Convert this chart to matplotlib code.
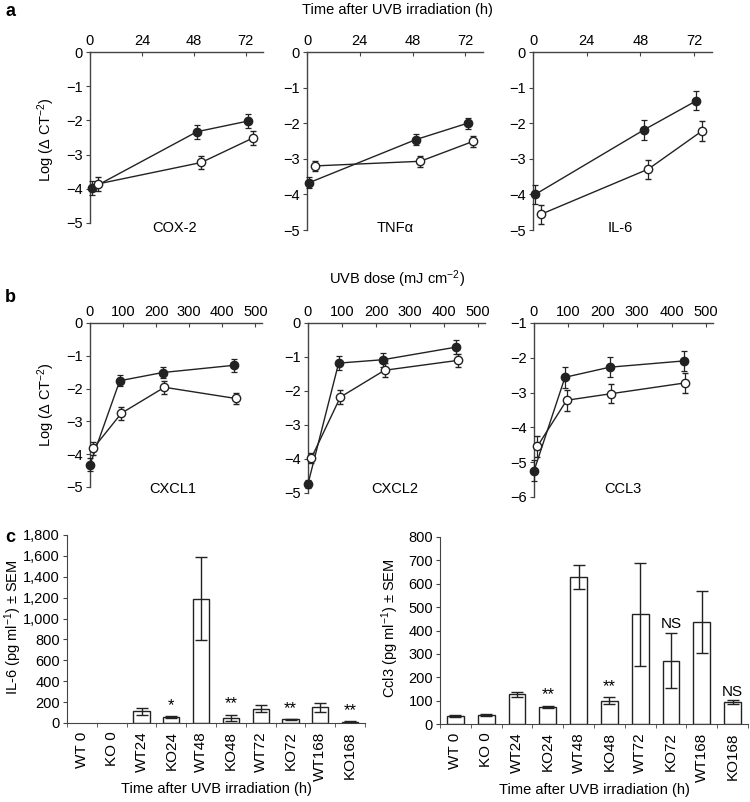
import matplotlib
matplotlib.use("Agg")
import matplotlib.pyplot as plt
import numpy as np

plt.rcParams['font.family'] = ['Liberation Sans', 'DejaVu Sans']
plt.rcParams['mathtext.fontset'] = 'custom'
plt.rcParams['mathtext.rm'] = 'Liberation Sans'
plt.rcParams['mathtext.it'] = 'Liberation Sans:italic'
plt.rcParams['font.size'] = 10.5

# ---------------- Panel a data (time, h) ----------------
a_genes = ["COX-2", "TNFα", "IL-6"]
a_time_filled = [1, 49.5, 73]
a_time_open = [3.5, 51.5, 75.5]
a_filled = [[-3.98, -2.33, -2.02], [-3.67, -2.46, -2.00], [-4.00, -2.19, -1.37]]
a_open = [[-3.86, -3.23, -2.51], [-3.20, -3.07, -2.51], [-4.56, -3.29, -2.22]]
a_filled_err = [[0.2, 0.2, 0.2], [0.15, 0.15, 0.15], [0.27, 0.27, 0.27]]
a_open_err = [[0.2, 0.18, 0.2], [0.15, 0.15, 0.15], [0.27, 0.27, 0.27]]

# ---------------- Panel b data (UVB dose) ----------------
b_genes = ["CXCL1", "CXCL2", "CCL3"]
b_dose_filled = [0, 90, 220, 435]
b_dose_open = [10, 95, 225, 440]
b_filled = [[-4.32, -1.76, -1.51, -1.29], [-4.73, -1.18, -1.08, -0.71], [-5.25, -2.56, -2.27, -2.09]]
b_open = [[-3.82, -2.75, -1.96, -2.30], [-3.97, -2.18, -1.39, -1.10], [-4.54, -3.22, -3.03, -2.72]]
b_filled_err = [[0.2, 0.17, 0.18, 0.2], [0.12, 0.2, 0.2, 0.2], [0.3, 0.3, 0.28, 0.28]]
b_open_err = [[0.2, 0.2, 0.2, 0.18], [0.15, 0.2, 0.2, 0.2], [0.3, 0.3, 0.28, 0.28]]
b_ylims = [(-5, 0), (-5, 0), (-6, -1)]

# ---------------- Panel c data ----------------
c_labels = ["WT 0", "KO 0", "WT24", "KO24", "WT48", "KO48", "WT72", "KO72", "WT168", "KO168"]
il6_vals = [0, 0, 112, 55, 1190, 50, 138, 35, 152, 12]
il6_err = [0, 0, 32, 8, 400, 30, 32, 4, 42, 3]
il6_marks = ["", "", "", "*", "", "**", "", "**", "", "**"]
ccl3_vals = [35, 39, 127, 74, 629, 99, 470, 271, 436, 93]
ccl3_err = [5, 3, 10, 5, 52, 15, 220, 118, 132, 8]
ccl3_marks = ["", "", "", "**", "", "**", "", "NS", "", "NS"]

W, H = 750, 802
fig = plt.figure(figsize=(W / 100, H / 100), dpi=100)


def px_axes(x0, y0, x1, y1):
    return fig.add_axes([x0 / W, 1 - y1 / H, (x1 - x0) / W, (y1 - y0) / H])


LC = '#222222'
SC = '#444444'


def style_line_axes(ax):
    for s in ['bottom', 'right']:
        ax.spines[s].set_visible(False)
    for s in ['top', 'left']:
        ax.spines[s].set_color(SC)
        ax.spines[s].set_linewidth(1.0)
    ax.xaxis.set_ticks_position('top')
    ax.xaxis.set_label_position('top')
    ax.tick_params(axis='x', direction='in', length=3, pad=3, color=SC, labelsize=10.5)
    ax.tick_params(axis='y', direction='out', length=3, pad=2, color=SC, labelsize=10.5)
    ax.set_facecolor('none')


def draw_series(ax, xf, yf, ef, xo, yo, eo):
    ax.errorbar(xf, yf, yerr=ef, color=LC, lw=1.0, marker='o', ms=6, mfc=LC, mec=LC,
                capsize=2, elinewidth=0.9, capthick=0.9, clip_on=False, zorder=3)
    ax.errorbar(xo, yo, yerr=eo, color=LC, lw=1.0, marker='o', ms=6, mfc='white', mec=LC,
                mew=1.0, capsize=2, elinewidth=0.9, capthick=0.9, clip_on=False, zorder=4)


# Panel a axes
a_boxes = [(90, 52, 263, 223), (307, 52, 483, 230), (533, 52, 712, 230)]
a_text_pos = [(175, 228), (395, 228), (620, 228)]
for i, (bx, tp) in enumerate(zip(a_boxes, a_text_pos)):
    ax = px_axes(*bx)
    style_line_axes(ax)
    ax.set_xlim(0, 80)
    ax.set_ylim(-5, 0)
    ax.set_xticks([0, 24, 48, 72])
    ax.set_yticks([0, -1, -2, -3, -4, -5])
    draw_series(ax, a_time_filled, a_filled[i], a_filled_err[i],
                a_time_open, a_open[i], a_open_err[i])
    fig.text(tp[0] / W, 1 - tp[1] / H, a_genes[i], ha='center', va='center', fontsize=10.5)

# Panel b axes
b_boxes = [(90, 323, 262, 487), (308, 323, 485, 493), (534, 323, 713, 497)]
b_text_pos = [(173, 489), (395, 489), (623, 489)]
for i, (bx, tp) in enumerate(zip(b_boxes, b_text_pos)):
    ax = px_axes(*bx)
    style_line_axes(ax)
    ax.set_xlim(0, 520)
    ax.set_ylim(*b_ylims[i])
    ax.set_xticks([0, 100, 200, 300, 400, 500])
    lo, hi = b_ylims[i]
    ax.set_yticks(np.arange(hi, lo - 0.5, -1))
    draw_series(ax, b_dose_filled, b_filled[i], b_filled_err[i],
                b_dose_open, b_open[i], b_open_err[i])
    fig.text(tp[0] / W, 1 - tp[1] / H, b_genes[i], ha='center', va='center', fontsize=10.5)

# Panel titles / labels
fig.text(5 / W, 1 - 12 / H, "a", fontsize=13, fontweight='bold', ha='left', va='center')
fig.text(397 / W, 1 - 10 / H, "Time after UVB irradiation (h)", fontsize=10.5, ha='center', va='center')
fig.text(5 / W, 1 - 297 / H, "b", fontsize=13, fontweight='bold', ha='left', va='center')
fig.text(397 / W, 1 - 279 / H, "UVB dose (mJ cm$^{-2}$)", fontsize=10.5, ha='center', va='center')
fig.text(5 / W, 1 - 537 / H, "c", fontsize=13, fontweight='bold', ha='left', va='center')
fig.text(46 / W, 1 - 140 / H, "Log (Δ CT$^{-2}$)", fontsize=10.5, rotation=90, ha='center', va='center')
fig.text(46 / W, 1 - 405 / H, "Log (Δ CT$^{-2}$)", fontsize=10.5, rotation=90, ha='center', va='center')


def bar_axes(box, vals, errs, marks, ymax, ystep, ylabel, ylab_x, fmt, mark_off):
    ax = px_axes(*box)
    x = np.arange(len(c_labels))
    vals = np.asarray(vals, dtype=float)
    errs = np.asarray(errs, dtype=float)
    nz = vals > 0
    ax.bar(x[nz], vals[nz], width=0.55, color='white', edgecolor=LC, linewidth=1.0, zorder=2)
    ax.errorbar(x[nz], vals[nz], yerr=errs[nz], fmt='none', ecolor=LC, elinewidth=1.0, capsize=4,
                capthick=1.0, zorder=3)
    for xi, v, e, m in zip(x, vals, errs, marks):
        if m:
            fs = 12 if m.startswith('*') else 11
            off = mark_off if m.startswith('*') else mark_off * 0.5
            ax.text(xi, v + e + off, m, ha='center', va='bottom', fontsize=fs)
    ax.set_xlim(-0.5, len(c_labels) - 0.5)
    ax.set_ylim(0, ymax)
    yt = np.arange(0, ymax + 1, ystep)
    ax.set_yticks(yt)
    ax.set_yticklabels([fmt(v) for v in yt])
    ax.set_xticks(x)
    ax.set_xticklabels(c_labels, rotation=90)
    ax.set_xticks(np.arange(-0.5, len(c_labels), 1.0), minor=True)
    ax.tick_params(axis='x', which='major', length=0, pad=6, labelsize=11)
    ax.tick_params(axis='x', which='minor', length=3, direction='out', color=SC)
    ax.tick_params(axis='y', direction='out', length=3, pad=2, labelsize=10.5, color=SC)
    for s in ['top', 'right']:
        ax.spines[s].set_visible(False)
    for s in ['bottom', 'left']:
        ax.spines[s].set_color(SC)
    cy = (box[1] + box[3]) / 2 - 2
    fig.text(ylab_x / W, 1 - cy / H, ylabel, fontsize=10.5, rotation=90, ha='center', va='center')
    ax.set_xlabel("Time after UVB irradiation (h)", fontsize=10.5, labelpad=1)
    ax.set_facecolor('none')
    return ax


bar_axes((67, 535, 365, 723), il6_vals, il6_err, il6_marks, 1800, 200,
         "IL-6 (pg ml$^{-1}$) ± SEM", 13, lambda v: f"{int(v):,}", 30)
bar_axes((440, 537, 748, 724), ccl3_vals, ccl3_err, ccl3_marks, 800, 100,
         "Ccl3 (pg ml$^{-1}$) ± SEM", 390, lambda v: f"{int(v)}", 15)

fig.savefig("out.png", dpi=100)
